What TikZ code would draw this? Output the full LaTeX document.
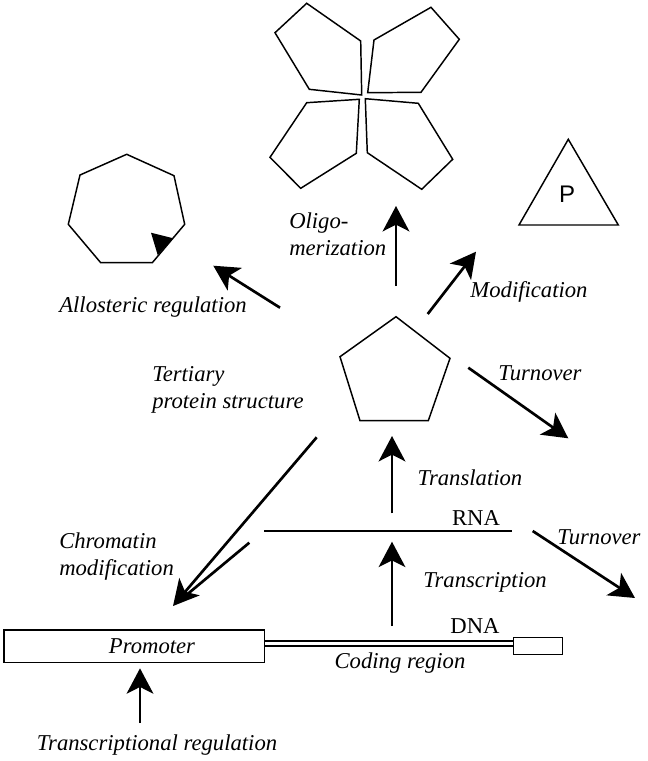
\documentclass[tikz,border=0pt]{standalone}
\usepackage{fontspec}
\setmainfont{Liberation Serif}
\newfontfamily\psans{Liberation Sans}
\usetikzlibrary{arrows.meta,positioning}

\begin{document}
\begin{tikzpicture}[x=0.75pt, y=-0.75pt,
    every node/.style={font=\fontsize{17}{20}\selectfont\itshape, inner sep=0pt},
    bigarrow/.style={line width=2pt, -{Stealth[length=19pt, width=20pt, inset=5pt]}},
    outline/.style={line width=1.1pt, line join=miter}]
    \useasboundingbox (0,0) rectangle (648,761);

    % Tetramer
    \draw[outline] (306.7,3.3) -- (275,32.7) -- (309.3,89.3) -- (361.7,95) -- (360.7,41) -- cycle;
    \draw[outline] (431,7.3) -- (459.3,39.3) -- (421,92.3) -- (367.7,92.7) -- (374,40) -- cycle;
    \draw[outline] (306.7,102.7) -- (359.3,99.3) -- (356.3,153.3) -- (300.7,188.3) -- (270,157.3) -- cycle;
    \draw[outline] (365.3,98.7) -- (418.3,103.3) -- (452.7,159.3) -- (421.7,189.3) -- (367.3,152.7) -- cycle;

    % Allosteric form
    \draw[outline] (126.7,154.3) -- (174,175.7) -- (184.7,224.3) -- (152.3,262.7) -- (100.7,262.7) -- (68.3,224.3) -- (80,175) -- cycle;
    \fill (151,232.7) -- (173.3,238.3) -- (157.7,255) -- cycle;

    % Modified form
    \draw[outline] (519,225) -- (568.3,139.3) -- (618.3,225) -- cycle;
    \node[font=\fontsize{18}{20}\selectfont\psans] (phos) at (567,194) {P};

    % Tertiary structure
    \draw[outline] (396,316.7) -- (450,358.3) -- (428.3,420.7) -- (360,420.7) -- (340,356.7) -- cycle;

    % RNA and DNA
    \draw[line width=0.8pt] (264.3,531) -- (511.7,531);
    \draw[outline] (4,630) rectangle (264.3,662.3);
    \draw[line width=0.8pt] (264.3,641) -- (513.3,641) (264.3,646) -- (513.3,646);
    \draw[outline] (513.3,637.3) rectangle (562.3,654.3);

    % Arrow ends
    \coordinate (olig-s) at (396,286);     \coordinate (olig-e) at (396,206);
    \coordinate (mod-s) at (427.7,314);    \coordinate (mod-e) at (476,251.7);
    \coordinate (allo-s) at (280,307.7);   \coordinate (allo-e) at (213.3,265.7);
    \coordinate (turn1-s) at (468.3,367.7); \coordinate (turn1-e) at (568.3,438.3);
    \coordinate (trl-s) at (392,513.3);    \coordinate (trl-e) at (392,436);
    \coordinate (trc-s) at (392,626);      \coordinate (trc-e) at (392,541.7);
    \coordinate (turn2-s) at (532.7,531);  \coordinate (turn2-e) at (635,598);
    \coordinate (chr-s) at (316.7,437.3);  \coordinate (chr-e) at (173,606);
    \coordinate (chr-b) at (249.3,542.7);  \coordinate (chr-m) at (184,597);
    \coordinate (treg-s) at (140,723);     \coordinate (treg-e) at (140,668.3);

    \draw[bigarrow] (olig-s) -- (olig-e);
    \draw[bigarrow] (mod-s) -- (mod-e);
    \draw[bigarrow] (allo-s) -- (allo-e);
    \draw[bigarrow] (turn1-s) -- (turn1-e);
    \draw[bigarrow] (trl-s) -- (trl-e);
    \draw[bigarrow] (trc-s) -- (trc-e);
    \draw[bigarrow] (turn2-s) -- (turn2-e);
    \draw[bigarrow] (chr-s) -- (chr-e);
    \draw[line width=2pt] (chr-b) -- (chr-m);
    \draw[bigarrow] (treg-s) -- (treg-e);

    % Labels
    \node[anchor=west, align=left] (olig) at (289,234) {Oligo-\\merization};
    \node (mod) at (529,292) {Modification};
    \node (allo) at (153,307) {Allosteric regulation};
    \node[anchor=west, align=left] (tert) at (152,390) {Tertiary\\protein structure};
    \node (turn1) at (540,373) {Turnover};
    \node (trl) at (470,478) {Translation};
    \node[font=\fontsize{17}{20}\selectfont] (rna) at (476,518) {RNA};
    \node (turn2) at (599,537) {Turnover};
    \node[anchor=west, align=left] (chr) at (59,556.5) {Chromatin\\modification};
    \node (trc) at (485,582) {Transcription};
    \node[font=\fontsize{17}{20}\selectfont] (dna) at (475,626) {DNA};
    \node (prom) at (152,646) {Promoter};
    \node (coding) at (400,663) {Coding region};
    \node (treg) at (157,745) {Transcriptional regulation};
\end{tikzpicture}
\end{document}
